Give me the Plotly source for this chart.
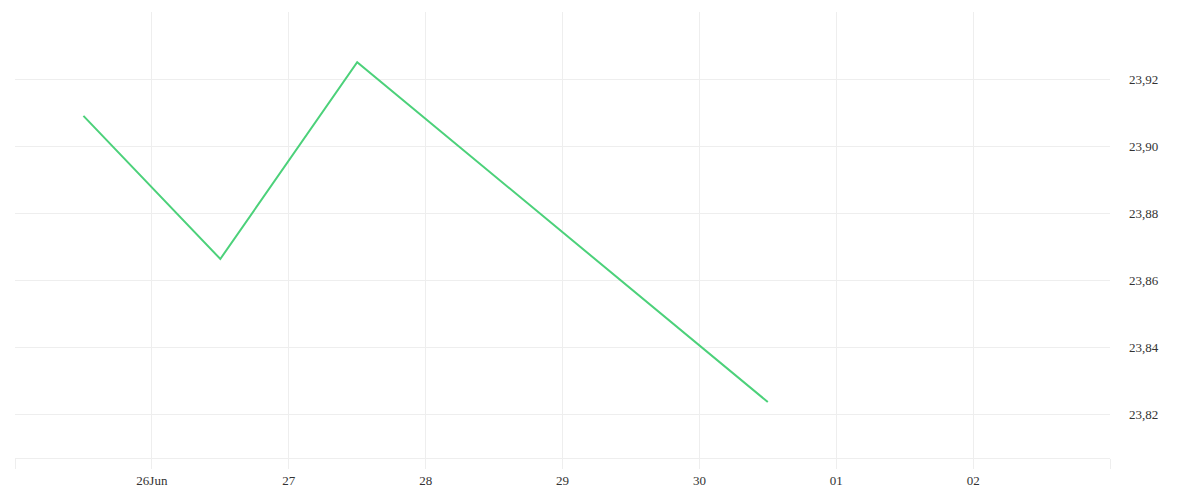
import plotly.graph_objects as go

dates = ["2023-06-25 12:00", "2023-06-26 12:00", "2023-06-27 12:00", "2023-06-30 12:00"]
values = [23.909, 23.8663, 23.925, 23.8236]

tick_dates = ["2023-06-25", "2023-06-26", "2023-06-27", "2023-06-28", "2023-06-29",
              "2023-06-30", "2023-07-01", "2023-07-02", "2023-07-03"]
tick_labels = ["", "26Jun", "27", "28", "29", "30", "01", "02", ""]

y_ticks = [23.82, 23.84, 23.86, 23.88, 23.90, 23.92]

font_family = "Liberation Serif, DejaVu Serif, serif"

fig = go.Figure()
fig.add_trace(go.Scatter(
    x=dates, y=values, mode="lines",
    line=dict(color="#4cd17a", width=2),
    hoverinfo="x+y",
))

fig.update_layout(
    width=1200, height=500,
    margin=dict(l=7, r=98, t=4, b=50),
    plot_bgcolor="white", paper_bgcolor="white",
    separators=",.",
    showlegend=False,
    font=dict(family=font_family, size=13, color="#333"),
)
fig.update_xaxes(
    range=["2023-06-25", "2023-07-03"],
    tickmode="array", tickvals=tick_dates, ticktext=tick_labels,
    showgrid=True, gridcolor="#eeeeee", gridwidth=1,
    showline=True, linecolor="#eeeeee", linewidth=1,
    ticks="outside", ticklen=10, tickcolor="#eeeeee",
    zeroline=False,
    tickfont=dict(family=font_family, size=13, color="#333"),
)
fig.update_yaxes(
    range=[23.8069, 23.94],
    side="right",
    tickmode="array", tickvals=y_ticks,
    tickformat=".2f",
    showgrid=True, gridcolor="#eeeeee", gridwidth=1,
    zeroline=False, showline=False,
    ticks="", ticklabelstandoff=18,
    tickfont=dict(family=font_family, size=13, color="#333"),
)

fig.write_html("out.html")
